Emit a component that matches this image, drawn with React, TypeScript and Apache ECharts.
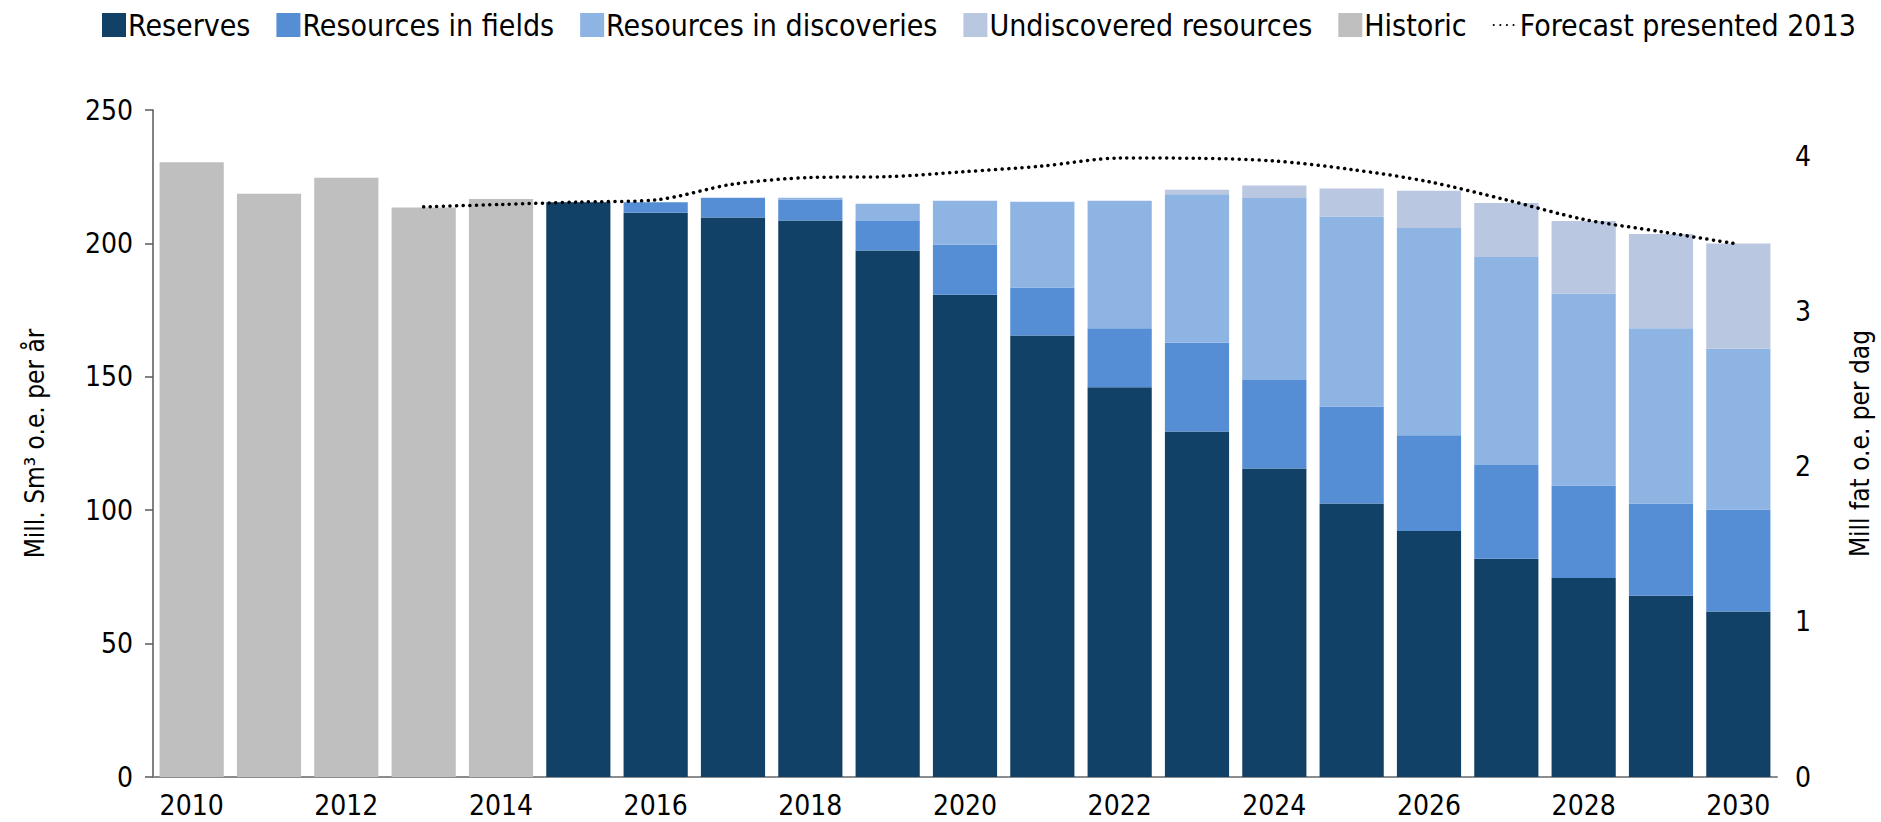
import React, { useEffect, useRef } from "react";
import * as echarts from "echarts";

const years = ["2010","2011","2012","2013","2014","2015","2016","2017","2018","2019","2020","2021","2022","2023","2024","2025","2026","2027","2028","2029","2030"];

const historic = [230.4, 218.6, 224.6, 213.5, 216.6, "-", "-", "-", "-", "-", "-", "-", "-", "-", "-", "-", "-", "-", "-", "-", "-"];
const reserves = ["-", "-", "-", "-", "-", 215.4, 211.5, 209.7, 208.6, 197.3, 180.8, 165.5, 146.1, 129.5, 115.6, 102.5, 92.2, 81.8, 74.6, 67.9, 62.0];
const resFields = ["-", "-", "-", "-", "-", 0, 3.9, 7.4, 7.9, 11.1, 18.8, 18.0, 22.1, 33.3, 33.2, 36.4, 35.9, 35.1, 34.7, 34.6, 38.3];
const resDiscoveries = ["-", "-", "-", "-", "-", 0, 0, 0, 0.6, 6.5, 16.4, 32.1, 47.8, 55.6, 68.2, 71.2, 77.7, 78.0, 71.9, 65.7, 60.2];
const undiscovered = ["-", "-", "-", "-", "-", 0, 0, 0, 0, 0, 0, 0, 0, 1.7, 4.7, 10.5, 13.9, 20.2, 27.2, 35.3, 39.5];
const forecast2013 = ["-", "-", "-", 213.7, 214.6, 215.5, 216.3, 222.2, 224.7, 225.0, 226.9, 229.0, 232.0, 231.9, 230.9, 227.7, 223.1, 216.3, 209.0, 204.4, 199.7];

const FONT = "'Liberation Sans Narrow', 'DejaVu Sans Condensed', 'Liberation Sans', sans-serif";

export default function App() {
  const ref = useRef<HTMLDivElement>(null);
  useEffect(() => {
    if (!ref.current) return;
    const chart = echarts.init(ref.current, null, { renderer: "svg" });
    const barCommon = { type: "bar", stack: "total", barCategoryGap: "17%", xAxisIndex: 0, yAxisIndex: 0 };
    chart.setOption({
      animation: false,
      backgroundColor: "#ffffff",
      textStyle: { fontFamily: FONT },
      legend: {
        left: 97,
        top: 5,
        itemWidth: 24,
        itemHeight: 24,
        itemGap: 26,
        textStyle: { fontSize: 30, color: "#000", fontFamily: FONT, padding: [0, 0, 0, -3] },
        data: [
          { name: "Reserves", icon: "rect" },
          { name: "Resources in fields", icon: "rect" },
          { name: "Resources in discoveries", icon: "rect" },
          { name: "Undiscovered resources", icon: "rect" },
          { name: "Historic", icon: "rect" },
          { name: "Forecast presented 2013", itemStyle: { color: "rgba(0,0,0,0)", borderWidth: 0 } },
        ],
      },
      grid: { left: 153, right: 104, top: 110, bottom: 45 },
      xAxis: {
        type: "category",
        data: years,
        axisLine: { lineStyle: { color: "#8c8c8c", width: 2 } },
        axisTick: { show: false },
        axisLabel: { interval: 1, fontSize: 28, color: "#000", margin: 14, fontFamily: FONT },
      },
      yAxis: [
        {
          type: "value",
          min: 0,
          max: 250,
          interval: 50,
          name: "Mill. Sm³ o.e. per år",
          nameLocation: "middle",
          nameRotate: 90,
          nameGap: 105,
          nameTextStyle: { fontSize: 26, color: "#000", fontFamily: FONT },
          axisLine: { show: true, lineStyle: { color: "#595959", width: 1.5 } },
          axisTick: { show: true, length: 8, lineStyle: { color: "#595959", width: 1.5 } },
          axisLabel: { fontSize: 28, color: "#000", margin: 20, fontFamily: FONT },
          splitLine: { show: false },
        },
        {
          type: "value",
          min: 0,
          max: 4.3,
          interval: 1,
          position: "right",
          name: "Mill fat o.e. per dag",
          nameLocation: "middle",
          nameRotate: 90,
          nameGap: 70,
          nameTextStyle: { fontSize: 26, color: "#000", fontFamily: FONT },
          axisLine: { show: false },
          axisTick: { show: false },
          axisLabel: { fontSize: 28, color: "#000", margin: 18, fontFamily: FONT, showMaxLabel: false },
          splitLine: { show: false },
        },
      ],
      series: [
        { ...barCommon, name: "Historic", data: historic, itemStyle: { color: "#bfbfbf" } },
        { ...barCommon, name: "Reserves", data: reserves, itemStyle: { color: "#124168" } },
        { ...barCommon, name: "Resources in fields", data: resFields, itemStyle: { color: "#558ed5" } },
        { ...barCommon, name: "Resources in discoveries", data: resDiscoveries, itemStyle: { color: "#8eb4e3" } },
        { ...barCommon, name: "Undiscovered resources", data: undiscovered, itemStyle: { color: "#b9c7e0" } },
        {
          type: "line",
          name: "Forecast presented 2013",
          data: forecast2013,
          smooth: 0.3,
          symbol: "none",
          z: 10,
          lineStyle: { color: "#000", width: 3.5, type: [0.1, 6.5], cap: "round" },
          itemStyle: { color: "#000" },
        },
      ],
    });
    return () => chart.dispose();
  }, []);
  return <div ref={ref} style={{ position: "fixed", left: 0, top: 0, width: 1881, height: 822 }} />;
}
